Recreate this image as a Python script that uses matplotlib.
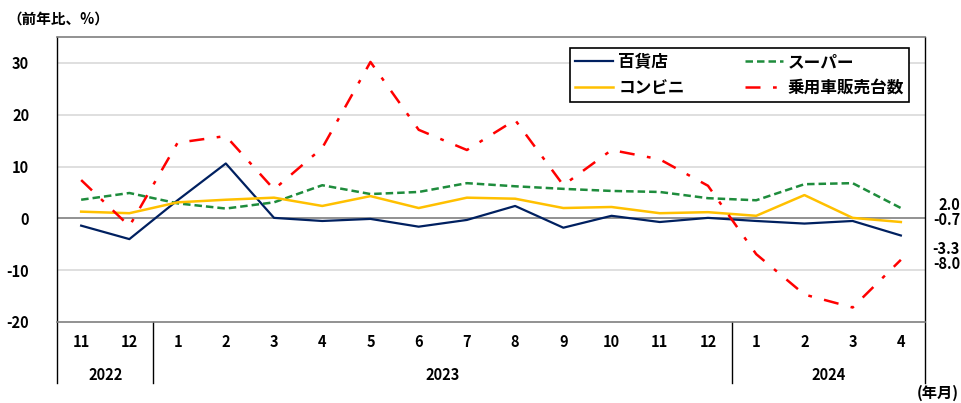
import matplotlib
matplotlib.use("Agg")
import matplotlib.pyplot as plt
from matplotlib.lines import Line2D
import matplotlib.transforms as mtransforms

plt.rcParams['font.family'] = ['Noto Sans CJK JP', 'DejaVu Sans']
plt.rcParams['font.weight'] = 'bold'

months = ["11", "12", "1", "2", "3", "4", "5", "6", "7", "8", "9", "10", "11", "12", "1", "2", "3", "4"]
years = ["2022", "2023", "2024"]
year_spans = [(0, 1), (2, 13), (14, 17)]

dept = [-1.4, -4.0, 3.5, 10.6, 0.1, -0.5, -0.1, -1.6, -0.3, 2.4, -1.8, 0.5, -0.7, 0.1, -0.5, -1.0, -0.5, -3.3]
superm = [3.6, 4.9, 2.9, 1.9, 3.1, 6.4, 4.7, 5.1, 6.8, 6.2, 5.7, 5.3, 5.1, 3.9, 3.5, 6.6, 6.8, 2.0]
conv = [1.3, 1.0, 3.1, 3.6, 4.0, 2.4, 4.3, 2.0, 4.0, 3.8, 2.0, 2.2, 1.0, 1.2, 0.5, 4.5, 0.1, -0.7]
cars = [7.4, -1.5, 14.6, 15.9, 5.6, 13.6, 30.2, 17.1, 13.2, 19.0, 6.4, 13.2, 11.4, 6.3, -6.9, -14.7, -17.2, -8.0]

series_names = ["百貨店", "スーパー", "コンビニ", "乗用車販売台数"]

fig = plt.figure(figsize=(9.62, 4.03), dpi=100)
ax = fig.add_axes([0.0593, 0.201, 0.9022, 0.707])

x = list(range(len(months)))
l1, = ax.plot(x, dept, color="#002060", lw=1.6, label=series_names[0])
l2, = ax.plot(x, superm, color="#1E8C3C", lw=1.8, dashes=(3, 1.6), label=series_names[1])
l3, = ax.plot(x, conv, color="#FFC000", lw=1.8, label=series_names[2])
l4, = ax.plot(x, cars, color="#FF0000", lw=1.8, dashes=(6, 5, 1.5, 5), label=series_names[3])

ax.set_xlim(-0.5, len(months) - 0.5)
ax.set_ylim(-20, 35)
ax.set_yticks([-20, -10, 0, 10, 20, 30])
ax.set_yticklabels(["-20", "-10", "0", "10", "20", "30"], fontsize=10.5, fontweight='bold')
for yv in [-10, 10, 20, 30]:
    ax.axhline(yv, color="#D9D9D9", lw=1.2, zorder=0)
ax.axhline(0, color="#7F7F7F", lw=1.2, zorder=0.5)

ax.set_xticks(x)
ax.set_xticklabels(months, fontsize=10.5, fontweight='bold')
ax.tick_params(axis='both', length=0)
ax.tick_params(axis='x', pad=9)
ax.tick_params(axis='y', pad=20)

for s in ['top', 'bottom']:
    ax.spines[s].set_color("#7F7F7F")
    ax.spines[s].set_linewidth(1.2)
ax.spines['left'].set_visible(False)
ax.spines['right'].set_visible(False)

ext = -0.214
trans = mtransforms.blended_transform_factory(ax.transData, ax.transAxes)
for xv in [-0.5, len(months) - 0.5]:
    ax.add_line(Line2D([xv, xv], [ext, 1], transform=trans, color="black", lw=1.0, clip_on=False))
for xv in [1.5, 13.5]:
    ax.add_line(Line2D([xv, xv], [ext, 0], transform=trans, color="black", lw=1.0, clip_on=False))

for (a, b), yr in zip(year_spans, years):
    ax.text((a + b) / 2, -0.185, yr, transform=trans, ha='center', va='center',
            fontsize=10.5, fontweight='bold')

# right-side end labels (stacked pairs)
trans_r = mtransforms.blended_transform_factory(fig.transFigure, ax.transData)
ax.text(0.998, 1.1, f"{superm[-1]:.1f}\n{conv[-1]:.1f}", transform=trans_r, ha='right', va='center',
        fontsize=10.5, fontweight='bold', linespacing=0.95, multialignment='right')
ax.text(0.998, -7.4, f"{dept[-1]:.1f}\n{cars[-1]:.1f}", transform=trans_r, ha='right', va='center',
        fontsize=10.5, fontweight='bold', linespacing=0.95, multialignment='right')

fig.text(0.008, 0.955, "（前年比、%）", ha='left', va='center', fontsize=10.5, fontweight='bold')
fig.text(0.997, 0.025, "(年月)", ha='right', va='center', fontsize=11, fontweight='bold')

leg = ax.legend(handles=[l1, l3, l2, l4], ncol=2, loc='upper right', bbox_to_anchor=(0.982, 0.961),
                frameon=True, fancybox=False, edgecolor='black', framealpha=1,
                prop={'size': 12, 'weight': 'bold'}, handlelength=2.3, columnspacing=3.6,
                handletextpad=0.3, borderpad=0.3, labelspacing=0.45, borderaxespad=0)
leg.get_frame().set_linewidth(1.2)

fig.savefig("out.png", dpi=100)
